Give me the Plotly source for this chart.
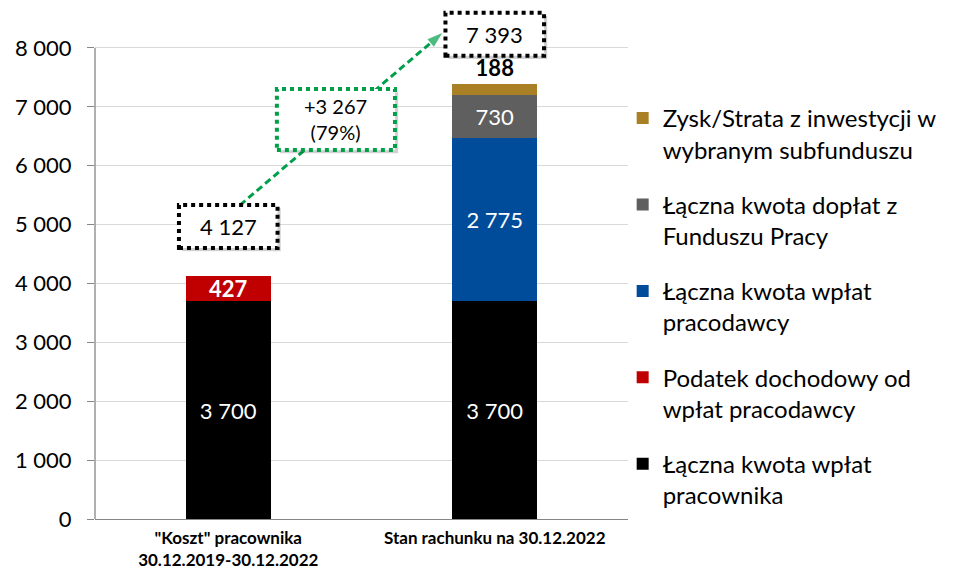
import plotly.graph_objects as go

# ---- data ----
categories = ['"Koszt" pracownika<br>30.12.2019-30.12.2022', 'Stan rachunku na 30.12.2022']
series_names = [
    "Łączna kwota wpłat<br>pracownika",
    "Podatek dochodowy od<br>wpłat pracodawcy",
    "Łączna kwota wpłat<br>pracodawcy",
    "Łączna kwota dopłat z<br>Funduszu Pracy",
    "Zysk/Strata z inwestycji w<br>wybranym subfunduszu",
]
employee = [3700, 3700]
tax = [427, 0]
employer = [0, 2775]
fp_subsidy = [0, 730]
profit = [0, 188]
totals = [4127, 7393]
growth_abs = 3267
growth_pct = 79
y_ticks = [0, 1000, 2000, 3000, 4000, 5000, 6000, 7000, 8000]

colors = ["#000000", "#C00000", "#004C9A", "#5F5F5F", "#A98026"]
FONT = "Lato"


def fmt(v):
    return f"{v:,}".replace(",", " ")


x = [0, 1]
series = [employee, tax, employer, fp_subsidy, profit]

fig = go.Figure()
for i, (name, vals, col) in enumerate(zip(series_names, series, colors)):
    is_top = i == len(series) - 1
    fig.add_trace(go.Bar(
        x=x, y=vals, name=name, marker=dict(color=col, line=dict(width=0)),
        width=0.32,
        text=[fmt(v) if v else "" for v in vals],
        textposition="outside" if is_top else "inside",
        insidetextanchor="middle",
        constraintext="none",
        textfont=dict(family=FONT, size=22,
                      color="#000000" if is_top else "#FFFFFF",
                      weight="bold" if (is_top or i == 1) else "normal"),
        cliponaxis=False,
        legendgroup=f"g{i}",
        legendrank=1000 - 10 * i,
        hoverinfo="skip",
    ))

# ---- total boxes ----
box_dx, box_off, box_h = 0.185, 840, 365
shadow_dx, shadow_dy = 0.012, 55
for xi, t in zip(x, totals):
    cy = t + box_off
    fig.add_shape(type="rect", xref="x", yref="y",
                  x0=xi - box_dx + shadow_dx, x1=xi + box_dx + shadow_dx,
                  y0=cy - box_h - shadow_dy, y1=cy + box_h - shadow_dy,
                  fillcolor="rgba(0,0,0,0.18)", line=dict(width=0))
    fig.add_shape(type="rect", xref="x", yref="y",
                  x0=xi - box_dx, x1=xi + box_dx, y0=cy - box_h, y1=cy + box_h,
                  fillcolor="white", line=dict(color="black", width=4, dash="dot"))
    fig.add_annotation(x=xi, y=cy, xref="x", yref="y", text=fmt(t), showarrow=False,
                       font=dict(family=FONT, size=22, color="#000000"))

# ---- arrow between totals ----
ax0, ay0 = x[0] + 0.044, totals[0] + box_off + box_h
ax1, ay1 = x[1] - box_dx - 0.012, totals[1] + box_off + 20
fig.add_trace(go.Scatter(
    x=[ax0, ax1], y=[ay0, ay1], mode="lines+markers",
    line=dict(color="#00A04A", width=3, dash="7px,4px"),
    marker=dict(symbol=["circle", "arrow"], size=[0, 16], angleref="previous",
                color="#00A04A", line=dict(width=0)),
    showlegend=False, hoverinfo="skip", cliponaxis=False,
))

# ---- growth box ----
gx, gy, gdx, gdy = 0.404, 6786, 0.2215, 518
fig.add_shape(type="rect", xref="x", yref="y",
              x0=gx - gdx + shadow_dx, x1=gx + gdx + shadow_dx,
              y0=gy - gdy - shadow_dy, y1=gy + gdy - shadow_dy,
              fillcolor="rgba(0,0,0,0.18)", line=dict(width=0))
fig.add_shape(type="rect", xref="x", yref="y",
              x0=gx - gdx, x1=gx + gdx, y0=gy - gdy, y1=gy + gdy,
              fillcolor="white", line=dict(color="#00A04A", width=4, dash="dot"))
fig.add_annotation(x=gx, y=gy, xref="x", yref="y",
                   text=f"+{fmt(growth_abs)}<br>({growth_pct}%)", showarrow=False,
                   font=dict(family=FONT, size=20, color="#000000"))

# y axis line only up to the top tick
fig.add_shape(type="line", xref="paper", yref="y", x0=0, x1=0, y0=0, y1=y_ticks[-1],
              line=dict(color="#868686", width=1.3), layer="above")

fig.update_layout(
    width=966, height=570,
    margin=dict(l=95, r=338, t=5, b=51),
    barmode="stack",
    paper_bgcolor="white", plot_bgcolor="white",
    separators=", ",
    font=dict(family=FONT, color="#000000"),
    showlegend=True,
    legend=dict(
        x=0.99, xanchor="left", y=0.823, yanchor="top",
        traceorder="grouped", tracegroupgap=21, valign="top",
        font=dict(family=FONT, size=24, color="#000000"),
        bgcolor="rgba(0,0,0,0)",
    ),
    xaxis=dict(
        range=[-0.5, 1.5], tickvals=x, ticktext=categories,
        showgrid=False, showline=True, linecolor="#868686", linewidth=1.3,
        ticks="", tickfont=dict(family=FONT, size=17, color="#000000", weight="bold"),
        ticklabelstandoff=3, zeroline=False, automargin=False,
    ),
    yaxis=dict(
        range=[0, 8730], tickvals=y_ticks, tickformat=",d",
        showgrid=True, gridcolor="#D9D9D9", gridwidth=1.3,
        showline=False, zeroline=False,
        ticks="outside", ticklen=7, tickcolor="#868686", tickwidth=1.3,
        tickfont=dict(family=FONT, size=22, color="#000000"),
        ticklabelstandoff=11, automargin=False,
    ),
)

fig.write_html("out.html", config={"displayModeBar": False},
               post_script="document.body.style.margin='0';")
